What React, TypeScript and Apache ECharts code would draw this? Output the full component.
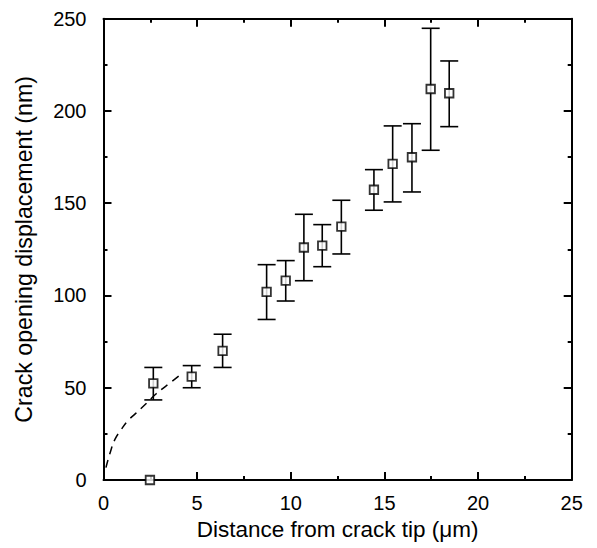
import React, { useEffect, useRef } from "react";
import * as echarts from "echarts";

const xValues = [2.66, 4.71, 6.36, 8.71, 9.73, 10.7, 11.68, 12.7, 14.44, 15.44, 16.47, 17.47, 18.46];
const yValues = [52.4, 56, 70, 102, 108, 126, 127, 137.3, 157.3, 171.3, 174.9, 211.9, 209.6];
const lowValues = [43.4, 50, 61, 87, 97, 108, 115.6, 122.5, 146.2, 150.7, 156.1, 178.7, 191.5];
const highValues = [61, 62, 79, 116.7, 118.9, 144, 138.4, 151.6, 168.2, 191.9, 193.1, 244.8, 227.1];
const zeroPoint = [[2.48, 0]];
const curveX = [0.13, 0.4, 0.61, 0.93, 1.29, 1.72, 2.3, 2.8, 3.64, 4.21];
const curveY = [6.7, 16.3, 22, 27.1, 32, 36.1, 41.6, 46.6, 53.3, 57.8];
const xTicks = [0, 5, 10, 15, 20, 25];
const yTicks = [0, 50, 100, 150, 200, 250];

const FONT = "Liberation Sans";

export default function App() {
  const ref = useRef<HTMLDivElement>(null);
  useEffect(() => {
    if (!ref.current) return;
    const chart = echarts.init(ref.current, null, { renderer: "svg" });
    const axisLine = { show: true, onZero: false, lineStyle: { color: "#000", width: 2 } };
    const axisTick = { show: true, inside: true, length: 8, lineStyle: { color: "#000", width: 2 } };
    const minorTick = { show: true, splitNumber: 2, length: 4, lineStyle: { color: "#000", width: 2 } };
    const points = xValues.map((x, i) => [x, yValues[i]]);
    const errData = xValues.map((x, i) => [x, lowValues[i], highValues[i]]);
    const curve = curveX.map((x, i) => [x, curveY[i]]);
    chart.setOption({
      animation: false,
      backgroundColor: "#fff",
      grid: { left: 103.5, right: 25.3, top: 18.7, bottom: 68, containLabel: false },
      xAxis: [
        {
          type: "value",
          min: xTicks[0],
          max: xTicks[xTicks.length - 1],
          interval: 5,
          position: "bottom",
          axisLine,
          axisTick,
          minorTick,
          splitLine: { show: false },
          axisLabel: { color: "#000", fontFamily: FONT, fontSize: 20, margin: 13 },
          name: "Distance from crack tip (\u03bcm)",
          nameLocation: "middle",
          nameGap: 38,
          nameTextStyle: { color: "#000", fontFamily: FONT, fontSize: 22.5 },
        },
        {
          type: "value",
          min: xTicks[0],
          max: xTicks[xTicks.length - 1],
          interval: 5,
          position: "top",
          axisLine,
          axisTick,
          minorTick,
          splitLine: { show: false },
          axisLabel: { show: false },
        },
      ],
      yAxis: [
        {
          type: "value",
          min: yTicks[0],
          max: yTicks[yTicks.length - 1],
          interval: 50,
          position: "left",
          axisLine,
          axisTick,
          minorTick,
          splitLine: { show: false },
          axisLabel: { color: "#000", fontFamily: FONT, fontSize: 20, margin: 17 },
          name: "Crack opening displacement (nm)",
          nameLocation: "middle",
          nameGap: 68,
          nameTextStyle: { color: "#000", fontFamily: FONT, fontSize: 23.2 },
        },
        {
          type: "value",
          min: yTicks[0],
          max: yTicks[yTicks.length - 1],
          interval: 50,
          position: "right",
          axisLine,
          axisTick,
          minorTick,
          splitLine: { show: false },
          axisLabel: { show: false },
        },
      ],
      series: [
        {
          type: "line",
          data: curve,
          smooth: true,
          showSymbol: false,
          symbol: "none",
          lineStyle: { color: "#000", width: 1.5, type: [8, 6] },
          z: 1,
        },
        {
          type: "custom",
          data: errData,
          z: 2,
          renderItem: (params: any, api: any) => {
            const x = api.value(0);
            const lo = api.coord([x, api.value(1)]);
            const hi = api.coord([x, api.value(2)]);
            const half = 9;
            const style = { stroke: "#000", lineWidth: 1.6, fill: "none" };
            return {
              type: "group",
              children: [
                { type: "line", shape: { x1: lo[0], y1: lo[1], x2: hi[0], y2: hi[1] }, style },
                { type: "line", shape: { x1: lo[0] - half, y1: lo[1], x2: lo[0] + half, y2: lo[1] }, style },
                { type: "line", shape: { x1: hi[0] - half, y1: hi[1], x2: hi[0] + half, y2: hi[1] }, style },
              ],
            };
          },
        },
        {
          type: "scatter",
          data: points,
          symbol: "rect",
          symbolSize: 8.5,
          itemStyle: { color: "#fff", borderColor: "#000", borderWidth: 1.8 },
          z: 3,
        },
        {
          type: "scatter",
          data: zeroPoint,
          symbol: "rect",
          symbolSize: 8.5,
          itemStyle: { color: "#fff", borderColor: "#000", borderWidth: 1.8 },
          z: 3,
        },
      ],
    });
    return () => chart.dispose();
  }, []);
  return (
    <div
      ref={ref}
      style={{ position: "fixed", left: 0, top: 0, width: 597, height: 548, background: "#fff" }}
    />
  );
}
